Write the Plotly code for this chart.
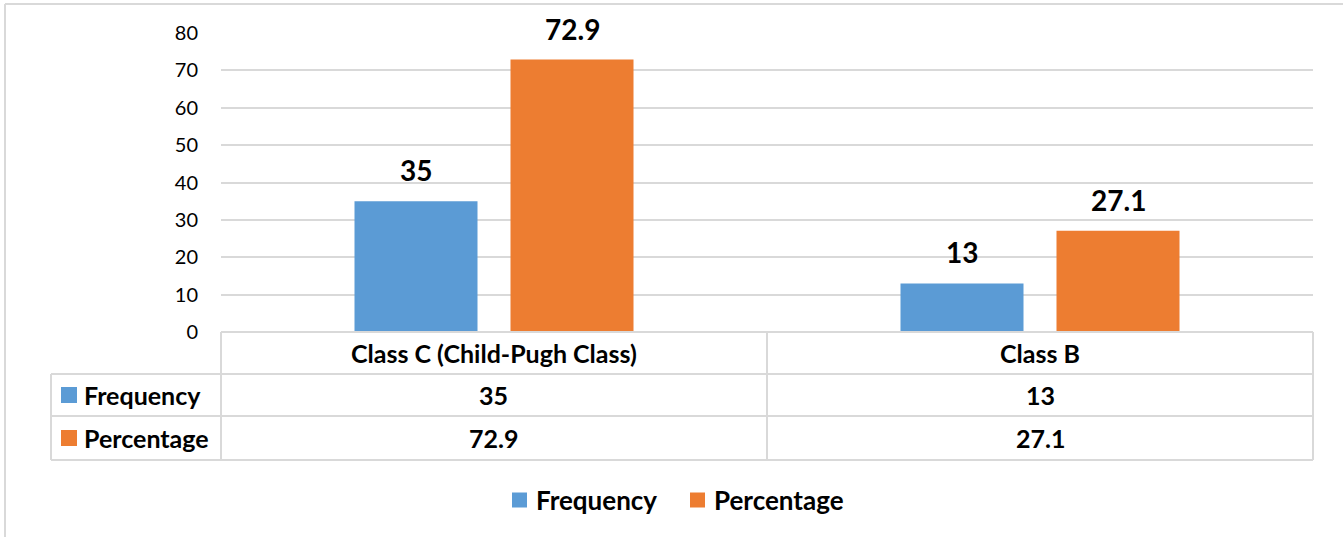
import plotly.graph_objects as go

# Child-Pugh class distribution
categories = ["Class C (Child-Pugh Class)", "Class B"]
frequency = [35, 13]
percentage = [72.9, 27.1]
series_names = ["Frequency", "Percentage"]
y_ticks = [0, 10, 20, 30, 40, 50, 60, 70, 80]

W, H = 1343, 537
BLUE = "#5b9bd5"
ORANGE = "#ed7d31"
GRID = "#d9d9d9"
FONT = "Lato"
COLORS = [BLUE, ORANGE]

# plot-area geometry in pixels
px_left, px_right = 221, 1313
px_top, px_bottom = 33, 332


def fx(px):
    return px / W


def fy(py):
    return 1 - py / H


fig = go.Figure()
for name, vals, col in zip(series_names, [frequency, percentage], COLORS):
    fig.add_trace(go.Bar(
        x=categories, y=vals, name=name, marker=dict(color=col, line=dict(width=0)),
        hoverinfo="skip", showlegend=False,
    ))

# value labels above the bars
offsets = [-78, 78]
for vals, off in zip([frequency, percentage], offsets):
    for cat, v in zip(categories, vals):
        fig.add_annotation(
            x=cat, y=v, xref="x", yref="y", xshift=off, yshift=12,
            text=f"<b>{v:g}</b>", showarrow=False, yanchor="bottom",
            font=dict(family=FONT, size=28, color="#000000"),
        )

shapes = []
line = dict(color=GRID, width=2)
# chart frame
shapes.append(dict(type="line", xref="paper", yref="paper", x0=fx(5), x1=1, y0=fy(4), y1=fy(4), line=line))
shapes.append(dict(type="line", xref="paper", yref="paper", x0=fx(5), x1=fx(5), y0=fy(4), y1=0, line=line))

# data table
row_y = [332, 374, 416, 460]
col_x = [51, 221, 767, 1313]
shapes.append(dict(type="line", xref="paper", yref="paper", x0=fx(221), x1=fx(1313), y0=fy(332), y1=fy(332), line=line))
for ry in row_y[1:]:
    shapes.append(dict(type="line", xref="paper", yref="paper", x0=fx(51), x1=fx(1313), y0=fy(ry), y1=fy(ry), line=line))
shapes.append(dict(type="line", xref="paper", yref="paper", x0=fx(51), x1=fx(51), y0=fy(374), y1=fy(460), line=line))
for cx in col_x[1:]:
    shapes.append(dict(type="line", xref="paper", yref="paper", x0=fx(cx), x1=fx(cx), y0=fy(332), y1=fy(460), line=line))

TABLE_FONT = dict(family=FONT, size=25, color="#000000")

# series keys in the table's row headers
for i, col in enumerate(COLORS):
    cy = (row_y[i + 1] + row_y[i + 2]) / 2
    shapes.append(dict(type="rect", xref="paper", yref="paper", x0=fx(61), x1=fx(77),
                       y0=fy(cy + 8), y1=fy(cy - 8), fillcolor=col, line=dict(width=0)))
    fig.add_annotation(x=fx(82), y=fy(cy), xref="paper", yref="paper", xanchor="left", yanchor="middle",
                       text=f"<b>{series_names[i]}</b>", showarrow=False, font=TABLE_FONT)

# table cells
for j, cat in enumerate(categories):
    cx = (col_x[j + 1] + col_x[j + 2]) / 2
    for i, txt in enumerate([cat, f"{frequency[j]:g}", f"{percentage[j]:g}"]):
        cy = (row_y[i] + row_y[i + 1]) / 2
        fig.add_annotation(x=fx(cx), y=fy(cy), xref="paper", yref="paper", xanchor="center", yanchor="middle",
                           text=f"<b>{txt}</b>", showarrow=False, font=TABLE_FONT)

# legend below the table
legend_x = [512, 690]
legend_y = 500
for lx, name, col in zip(legend_x, series_names, COLORS):
    shapes.append(dict(type="rect", xref="paper", yref="paper", x0=fx(lx), x1=fx(lx + 15),
                       y0=fy(legend_y + 7.5), y1=fy(legend_y - 7.5), fillcolor=col, line=dict(width=0)))
    fig.add_annotation(x=fx(lx + 22), y=fy(legend_y), xref="paper", yref="paper", xanchor="left",
                       yanchor="middle", text=f"<b>{name}</b>", showarrow=False,
                       font=dict(family=FONT, size=26, color="#000000"))

fig.update_layout(
    width=W, height=H,
    margin=dict(l=0, r=0, t=0, b=0, pad=0, autoexpand=False),
    paper_bgcolor="white", plot_bgcolor="white",
    barmode="group", bargap=0.4286, bargroupgap=0.2115,
    shapes=shapes,
    showlegend=False,
    xaxis=dict(domain=[fx(px_left), fx(px_right)], showticklabels=False, showgrid=False,
               zeroline=False, showline=False, ticks="", automargin=False),
    yaxis=dict(domain=[fy(px_bottom), fy(px_top)], range=[0, 80], tickvals=y_ticks,
               showgrid=True, gridcolor=GRID, gridwidth=2, zeroline=False, showline=False,
               ticks="", ticklabelstandoff=22, automargin=False,
               tickfont=dict(family=FONT, size=20, color="#000000")),
    font=dict(family=FONT),
)

fig.write_html("out.html")
